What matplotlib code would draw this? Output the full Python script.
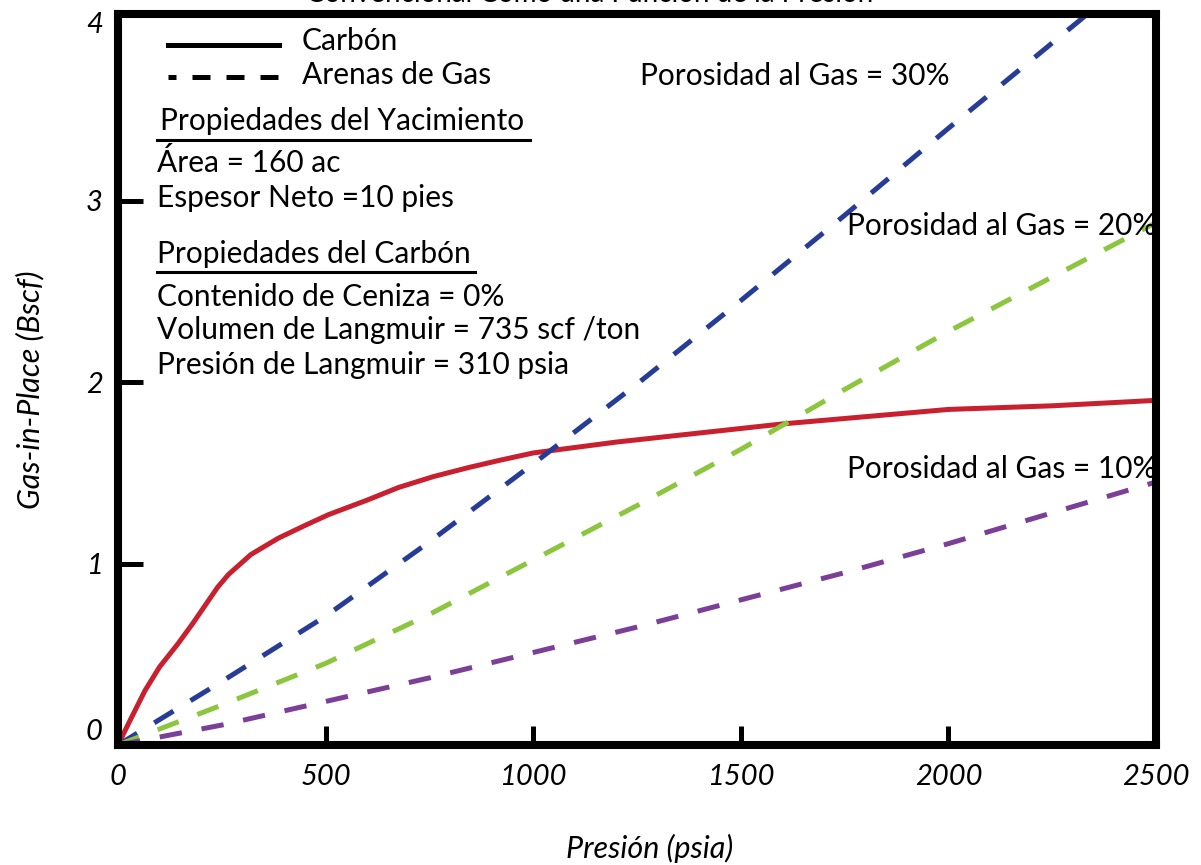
import matplotlib.pyplot as plt
from matplotlib.lines import Line2D
import matplotlib.transforms as mtransforms

plt.rcParams['font.family'] = ['Lato', 'DejaVu Sans']

# values (pressure in psia, gas-in-place in Bscf)
p_coal = [0, 30, 65, 100, 145, 180, 210, 240, 266, 320, 386, 450, 507, 600, 676, 760, 845,
          920, 1000, 1200, 1400, 1600, 1800, 2000, 2250, 2500]
gip_coal = [0, 0.14, 0.30, 0.43, 0.56, 0.67, 0.77, 0.87, 0.94, 1.05, 1.14, 1.21, 1.27, 1.35, 1.42,
            1.48, 1.53, 1.57, 1.61, 1.67, 1.72, 1.77, 1.81, 1.85, 1.87, 1.90]

p_phi30 = [0, 250, 500, 750, 1000, 1250, 1500, 1750, 2000, 2319, 2350]
gip_phi30 = [0, 0.35, 0.71, 1.12, 1.55, 1.99, 2.45, 2.92, 3.40, 4.00, 4.06]

p_phi20 = [0, 250, 500, 750, 1000, 1250, 1500, 1750, 2000, 2250, 2500]
gip_phi20 = [0, 0.22, 0.45, 0.72, 1.02, 1.32, 1.63, 1.96, 2.28, 2.58, 2.88]

p_phi10 = [0, 250, 500, 750, 1000, 1250, 1500, 1750, 2000, 2250, 2500]
gip_phi10 = [0, 0.11, 0.24, 0.37, 0.51, 0.65, 0.80, 0.95, 1.11, 1.28, 1.45]

xticks = [0, 500, 1000, 1500, 2000, 2500]
yticks = [0, 1, 2, 3, 4]

W, H = 1201, 865
fig = plt.figure(figsize=(W / 100, H / 100), dpi=100)


def fx(px):
    return px / W


def fy(py):
    return 1 - py / H


ax = fig.add_axes([fx(118), fy(745), (1156 - 118) / W, (745 - 14) / H])

dash = (0, (4.5, 4))
ax.plot(p_coal, gip_coal, color='#c8202f', lw=3.6, solid_capstyle='butt')
ax.plot(p_phi30, gip_phi30, color='#263c96', lw=3.6, ls=dash, dash_capstyle='butt')
ax.plot(p_phi20, gip_phi20, color='#8cc63f', lw=3.6, ls=dash, dash_capstyle='butt')
ax.plot(p_phi10, gip_phi10, color='#7b3f98', lw=3.6, ls=dash, dash_capstyle='butt')

ax.set_xlim(0, 2500)
ax.set_ylim(0, 4.03)
ax.set_xticks(xticks)
ax.set_yticks(yticks)
for s in ax.spines.values():
    s.set_linewidth(5.8)
ax.tick_params(axis='both', direction='in', width=3.6, labelsize=21)
ax.tick_params(axis='y', length=18, pad=11)
ax.tick_params(axis='x', length=14, pad=14)
for lab in ax.get_xticklabels() + ax.get_yticklabels():
    lab.set_fontstyle('italic')
ax.yaxis.get_major_ticks()[-1].tick1line.set_visible(False)

# the 0 and 4 labels sit a little inside the frame in the original
ylabs = ax.get_yticklabels()
ylabs[0].set_transform(ylabs[0].get_transform() + mtransforms.ScaledTranslation(0, 16 / 100, fig.dpi_scale_trans))
ylabs[-1].set_transform(ylabs[-1].get_transform() + mtransforms.ScaledTranslation(0, -3 / 100, fig.dpi_scale_trans))

fig.text(fx(650), fy(848), 'Presión (psia)', fontsize=22, style='italic', ha='center', va='center')
fig.text(fx(30), fy(390), 'Gas-in-Place (Bscf)', fontsize=22, style='italic', ha='center', va='center',
         rotation=90)

# title mostly cut off at the top edge
fig.text(fx(590), fy(-6), 'Convencional Como una Función de la Presión', fontsize=20,
         ha='center', va='center')

# legend
fig.add_artist(Line2D([fx(168), fx(279)], [fy(45), fy(45)], color='black', lw=3.6))
fig.add_artist(Line2D([fx(168), fx(279)], [fy(77), fy(77)], color='black', lw=3.6,
                      ls=(2.0, (3.6, 3.2))))
fig.text(fx(302), fy(41), 'Carbón', fontsize=21.5, va='center')
fig.text(fx(302), fy(75), 'Arenas de Gas', fontsize=21.5, va='center')

info = [
    (160, 121, 'Propiedades del Yacimiento', 530, 140),
    (157, 162, 'Área = 160 ac', None, None),
    (157, 198, 'Espesor Neto =10 pies', None, None),
    (157, 254, 'Propiedades del Carbón', 475, 272),
    (157, 297, 'Contenido de Ceniza = 0%', None, None),
    (157, 330, 'Volumen de Langmuir = 735 scf /ton', None, None),
    (157, 365, 'Presión de Langmuir = 310 psia', None, None),
]
for x0, y0, txt, ux, uy in info:
    fig.text(fx(x0), fy(y0), txt, fontsize=21.5, va='center')
    if ux is not None:
        fig.add_artist(Line2D([fx(157), fx(ux)], [fy(uy), fy(uy)], color='black', lw=2.2))

fig.text(fx(640), fy(76), 'Porosidad al Gas = 30%', fontsize=21.5, va='center')
fig.text(fx(847), fy(226), 'Porosidad al Gas = 20%', fontsize=21.5, va='center')
fig.text(fx(847), fy(469), 'Porosidad al Gas = 10%', fontsize=21.5, va='center')

fig.savefig('out.png', dpi=100)
